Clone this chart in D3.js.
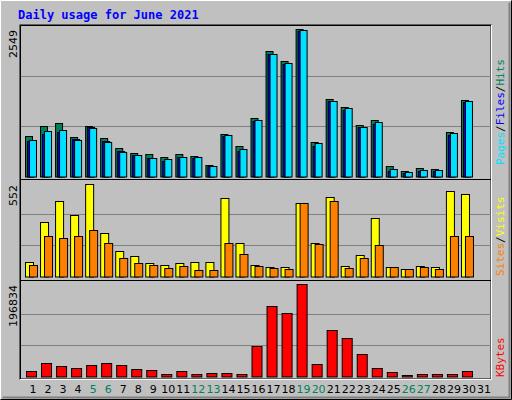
<!DOCTYPE html>
<html><head><meta charset="utf-8">
<script src="https://cdn.jsdelivr.net/npm/d3@7"></script>
<style>body{margin:0;background:#fff}</style></head>
<body><script>
const days = d3.range(1,32);
const weekends = [5,6,12,13,19,20,26,27];
const hits  = [697,870,927,685,875,668,495,409,392,340,392,357,202,737,530,1013,2170,1997,2549,599,1341,1203,892,979,185,98,150,133,772,1324,0];
const files = [616,737,772,651,863,616,444,375,323,271,340,323,185,702,444,961,2118,1945,2515,530,1307,1151,858,910,98,64,98,98,720,1289,0];
const pages = [633,789,806,633,841,599,426,375,323,305,340,340,185,720,478,979,2118,1962,2532,582,1307,1186,858,944,133,81,116,116,754,1307,0];
const visits= [84,324,450,366,552,258,150,120,78,66,78,84,84,468,198,66,54,54,438,198,474,60,126,348,54,42,60,54,510,492,0];
const sites = [66,240,228,240,276,198,108,78,66,48,60,36,36,198,132,60,48,42,438,192,450,48,108,186,54,42,54,42,240,240,0];
const kbytes= [11450,28630,22190,17900,24340,28630,24340,15750,13600,5010,11450,5010,7160,7160,5010,65140,151030,136000,196834,26480,99500,82320,47960,17900,9300,2860,5010,5010,5010,11450,0];
const maxTop=2549, maxMid=552, maxBot=196834;

const W=512,H=400;
const svg=d3.select("body").append("svg").attr("width",W).attr("height",H).style("font-family","'DejaVu Sans Mono',monospace");
svg.append("rect").attr("width",W).attr("height",H).attr("fill","#c0c0c0");
svg.append("path").attr("d","M0.5,399.5V0.5H511.5").attr("stroke","#fff").attr("fill","none");
svg.append("path").attr("d","M0.5,399.5H511.5V0.5").attr("stroke","#000").attr("fill","none");
svg.append("path").attr("d","M2.5,397.5H509.5V2.5").attr("stroke","#808080").attr("fill","none").attr("stroke-width",2);
svg.append("text").attr("x",18).attr("y",19).text("Daily usage for June 2021").attr("fill","#0000ff").attr("font-weight","bold").attr("font-size",12);

const x=d3.scaleLinear().domain([1,31]).range([33,484]);
const L=20,R=491;
// panel frames
svg.append("rect").attr("x",L).attr("y",25).attr("width",R-L).attr("height",354).attr("fill","none").attr("stroke","#000");
svg.append("line").attr("x1",L).attr("x2",R).attr("y1",179.5).attr("y2",179.5).attr("stroke","#000");
svg.append("line").attr("x1",L).attr("x2",R).attr("y1",280.5).attr("y2",280.5).attr("stroke","#000");
svg.append("path").attr("d",`M${L+0.5},379V25.5H${R}`).attr("stroke","#000").attr("fill","none");
svg.append("path").attr("d",`M${R+0.5},25V379.5H${L}`).attr("stroke","#fff").attr("fill","none");

function panel(y0,y1,max,label){
  const y=d3.scaleLinear().domain([0,max]).range([y0,y1]);
  [1/3,2/3].forEach(f=>{
    svg.append("line").attr("x1",L+1).attr("x2",R).attr("y1",Math.round(y0-(y0-y1)*f*1.02)+0.5).attr("y2",Math.round(y0-(y0-y1)*f*1.02)+0.5).attr("stroke","#808080");
  });
  svg.append("text").attr("transform",`translate(17,${y1+1}) rotate(-90)`).attr("text-anchor","end").attr("font-size",11).attr("font-family","'DejaVu Sans',sans-serif").text(label);
  return y;
}
function bars(data,y,dx,w,color){
  svg.append("g").selectAll("rect").data(data).join("rect")
    .filter(d=>d>0)
    .attr("x",(d,i)=>x(i+1)+dx+0.5).attr("width",w)
    .attr("y",d=>Math.round(y(d))+0.5).attr("height",d=>Math.max(0,y(0)-Math.round(y(d))))
    .attr("fill",color).attr("stroke","#000");
}
const y1=panel(176.5,29,maxTop,"2549");
bars(hits,y1,-8,7,"#00805c");
bars(files,y1,-6,7,"#0000ff");
bars(pages,y1,-4,7,"#00e0ff");
const y2=panel(276.5,184,maxMid,"552");
bars(visits,y2,-8,8,"#ffff00");
bars(sites,y2,-4,8,"#ff8000");
const y3=panel(376.5,284,maxBot,"196834");
bars(kbytes,y3,-7,10,"#ff0000");

svg.append("g").selectAll("text").data(days).join("text")
  .attr("x",d=>x(d)).attr("y",393).attr("text-anchor","middle").attr("font-size",11)
  .attr("font-family","'DejaVu Sans',sans-serif")
  .attr("fill",d=>weekends.includes(d)?"#00805c":"#000").text(d=>d);

function rlabel(yBottom,parts){
  const t=svg.append("text").attr("transform",`translate(504,${yBottom}) rotate(-90)`).attr("font-size",11);
  parts.forEach(p=>t.append("tspan").attr("fill",p[1]).text(p[0]));
}
rlabel(165,[["Pages","#00e0ff"],["/","#000"],["Files","#0000ff"],["/","#000"],["Hits","#00805c"]]);
rlabel(276,[["Sites","#ff8000"],["/","#000"],["Visits","#ffff00"]]);
rlabel(377,[["KBytes","#ff0000"]]);
</script></body></html>
